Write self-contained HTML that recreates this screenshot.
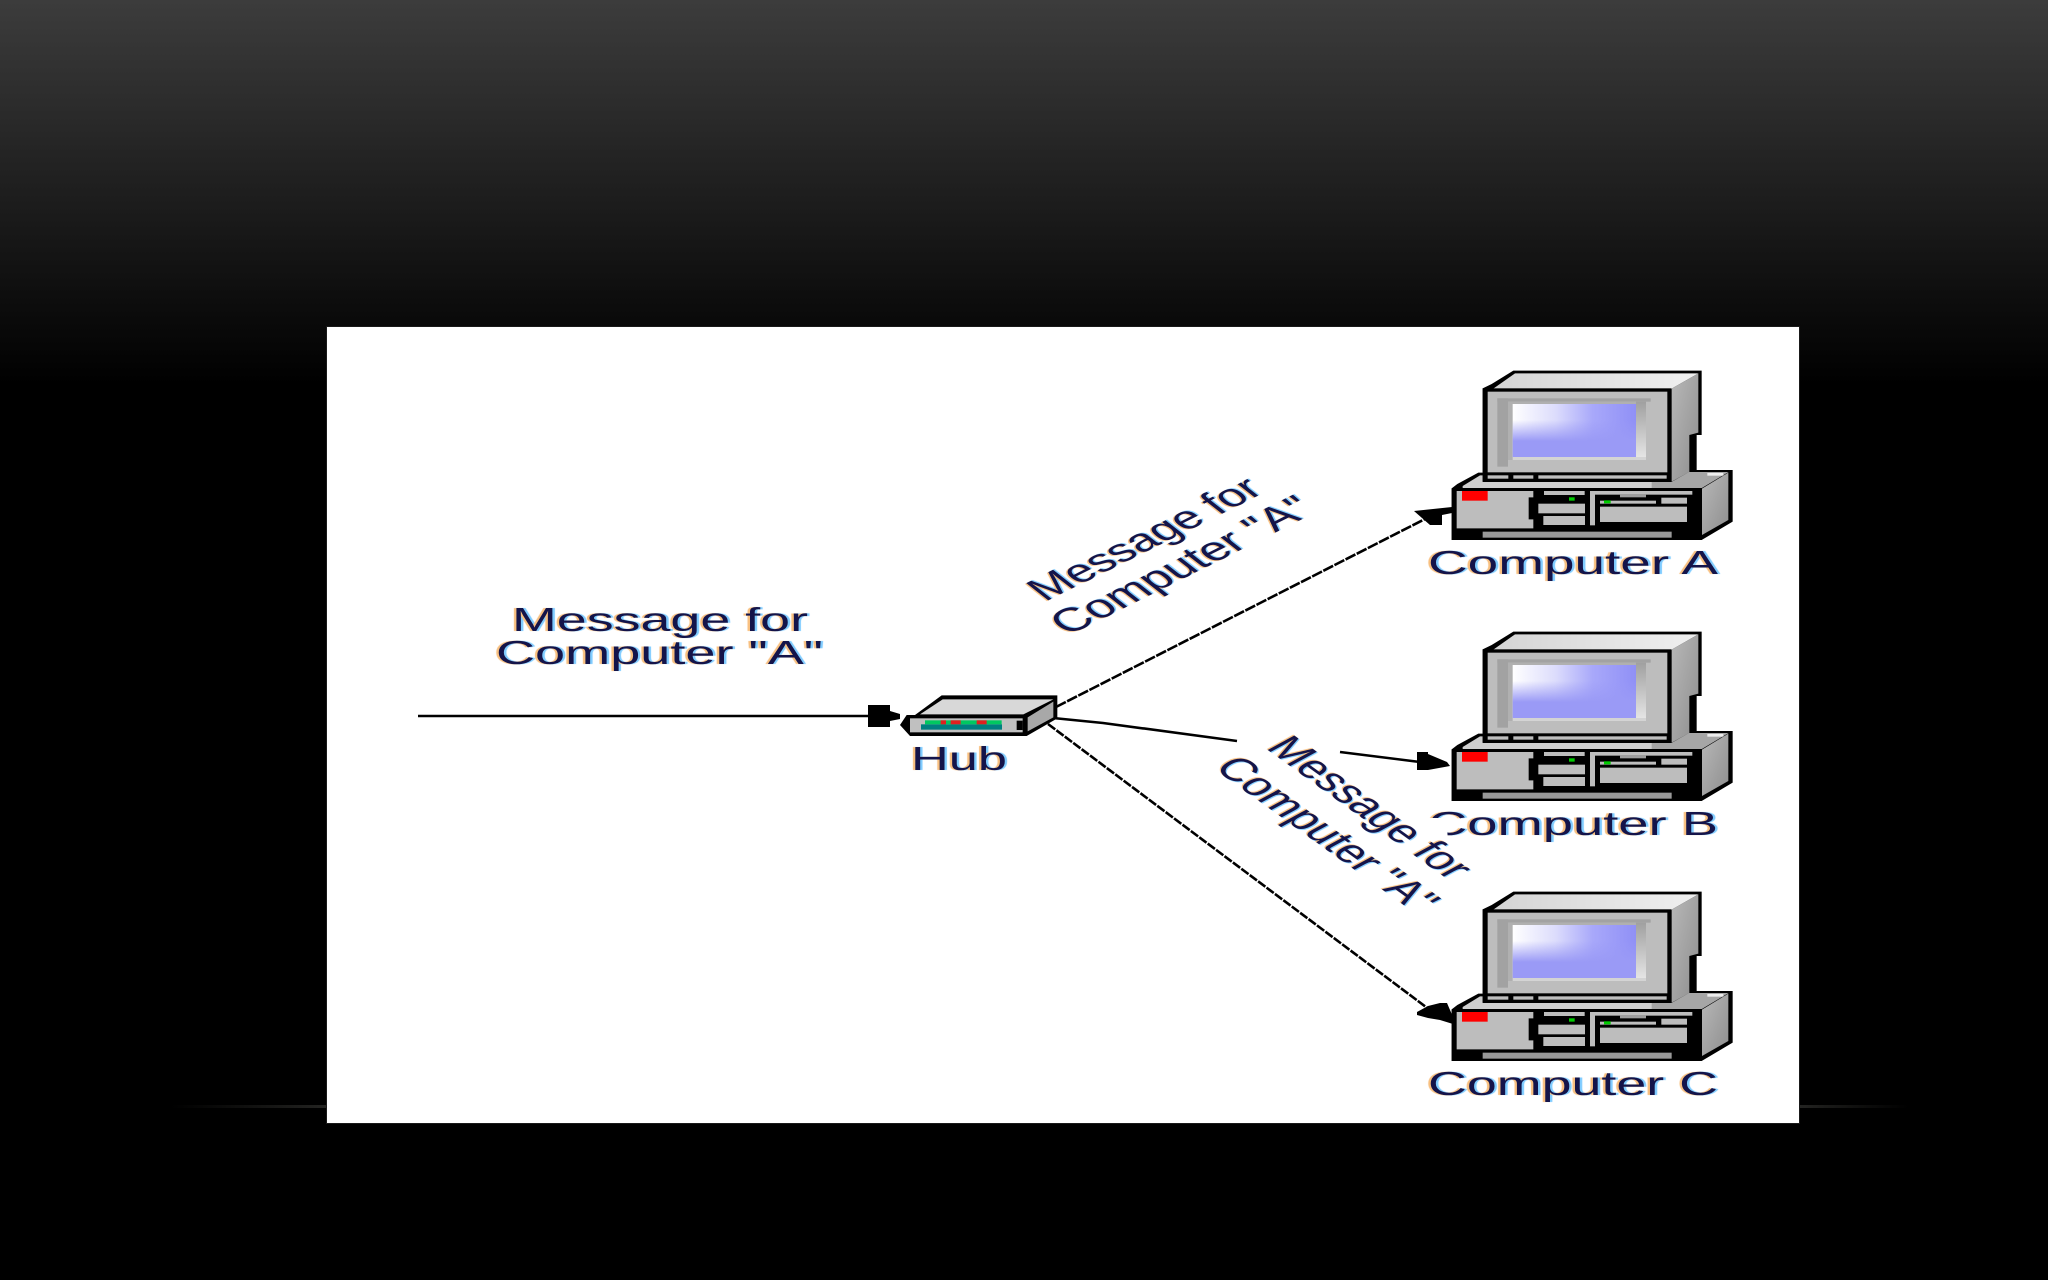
<!DOCTYPE html>
<html><head><meta charset="utf-8"><title>Hub diagram</title>
<style>
html,body{margin:0;padding:0;background:#000;width:2048px;height:1280px;overflow:hidden}
svg{display:block}
text{font-family:"Liberation Sans",sans-serif;font-size:33px;fill:#14144a;text-shadow:-1.5px 0 .5px #f8c080,1.5px 0 .5px #80ccff}
</style></head><body>
<svg width="2048" height="1280" viewBox="0 0 2048 1280" xmlns="http://www.w3.org/2000/svg">
<defs>
<linearGradient id="bg" x1="0" y1="0" x2="0" y2="1"><stop offset="0" stop-color="#3c3c3c"/><stop offset=".5" stop-color="#1e1e1e"/><stop offset="1" stop-color="#000"/></linearGradient>
<linearGradient id="fl" x1="0" x2="1"><stop offset="0" stop-color="#1e1e1c" stop-opacity="0"/><stop offset="1" stop-color="#242422"/></linearGradient>
<linearGradient id="fr" x1="0" x2="1"><stop offset="0" stop-color="#242422"/><stop offset="1" stop-color="#1e1e1c" stop-opacity="0"/></linearGradient>
<linearGradient id="scr" x1="0" y1="0" x2="1" y2="0"><stop offset="0" stop-color="#ffffff"/><stop offset=".35" stop-color="#dcdcfc"/><stop offset=".65" stop-color="#a8a8fa"/><stop offset="1" stop-color="#9090f6"/></linearGradient>
<linearGradient id="scrv" x1="0" y1="0" x2="0" y2="1"><stop offset=".3" stop-color="#9a9af6" stop-opacity="0"/><stop offset=".7" stop-color="#9a9af6"/></linearGradient>
<linearGradient id="top" x1="0" x2="1"><stop offset="0" stop-color="#d4d4d4"/><stop offset="1" stop-color="#f0f0f0"/></linearGradient>
<linearGradient id="side" x1="0" y1="0" x2="1" y2="1"><stop offset="0" stop-color="#b8b8b8"/><stop offset="1" stop-color="#8e8e8e"/></linearGradient>
<linearGradient id="rs" x1="0" y1="0" x2="0" y2="1"><stop offset="0" stop-color="#a0a0a0"/><stop offset="1" stop-color="#e8e8e8"/></linearGradient>
<g id="pc">
<polygon fill="#000" points="340,92 905,92 905,285 890,285 890,390 998,390 998,545 905,600 155,600 155,445 172,432 235,398 248,398 248,145 275,132"/>
<polygon fill="url(#top)" points="280,146 345,100 895,100 815,146"/>
<polygon fill="url(#side)" points="815,146 895,100 895,278 868,285 868,396 815,425"/>
<polygon fill="#cfcfcf" points="188,438 240,406 248,406 248,426 815,426 868,396 985,396 905,444 188,444"/>
<polygon fill="#a6a6a6" points="755,426 815,426 868,396 985,396 905,444 755,444"/>
<rect x="922" y="399" width="48" height="8" fill="#eee"/>
<polygon fill="url(#side)" points="906,446 985,398 985,540 906,585"/>
<rect x="248" y="145" width="566" height="280" fill="#000"/>
<rect x="263" y="155" width="539" height="242" fill="#bdbdbd"/>
<rect x="292" y="175" width="460" height="10" fill="#a2a2a2"/>
<rect x="292" y="175" width="32" height="205" fill="#a2a2a2"/>
<rect x="324" y="185" width="414" height="175" fill="#b0b0b0"/>
<rect x="708" y="185" width="30" height="175" fill="url(#rs)"/>
<rect x="338" y="192" width="370" height="159" fill="url(#scr)"/>
<rect x="338" y="192" width="370" height="159" fill="url(#scrv)"/>
<rect x="338" y="351" width="400" height="9" fill="#d4d4d4"/>
<rect x="263" y="406" width="62" height="10" fill="#bdbdbd"/>
<rect x="340" y="406" width="60" height="10" fill="#bdbdbd"/>
<rect x="415" y="406" width="385" height="10" fill="#bdbdbd"/>
<rect x="155" y="445" width="750" height="155" fill="#000"/>
<polygon fill="#bdbdbd" points="170,453 400,453 400,472 386,472 386,538 400,538 400,565 170,565"/>
<rect x="186" y="453" width="77" height="29" fill="#f00"/>
<rect x="432" y="453" width="122" height="12" fill="#bdbdbd"/>
<rect x="507" y="472" width="17" height="10" fill="#0c0"/>
<rect x="415" y="491" width="140" height="29" fill="#bdbdbd"/>
<rect x="430" y="528" width="125" height="27" fill="#bdbdbd"/>
<rect x="570" y="453" width="15" height="103" fill="#bdbdbd"/>
<rect x="585" y="453" width="292" height="11" fill="#bdbdbd"/>
<rect x="660" y="464" width="78" height="8" fill="#9c9c9c"/>
<rect x="600" y="482" width="168" height="9" fill="#bdbdbd"/>
<rect x="612" y="481" width="20" height="9" fill="#0c0"/>
<rect x="784" y="473" width="77" height="18" fill="#bdbdbd"/>
<rect x="600" y="500" width="261" height="46" fill="#bdbdbd"/>
<rect x="248" y="575" width="567" height="18" fill="#999"/>
</g>
</defs>

<rect width="2048" height="385" fill="url(#bg)"/>
<rect x="170" y="1105" width="157" height="3" fill="url(#fl)"/>
<rect x="1799" y="1105" width="110" height="3" fill="url(#fr)"/>
<rect x="326" y="326" width="1474" height="798" fill="#1a1a1a"/>
<rect x="327" y="327" width="1472" height="796" fill="#fff"/>

<!-- connectors -->
<g fill="none" stroke="#000" stroke-width="2.6">
<line x1="418" y1="716" x2="900" y2="716"/>
<line x1="1056" y1="707" x2="1425" y2="519" stroke-dasharray="11 1.5"/>
<polyline points="1053,718 1103,723 1237,741"/>
<line x1="1340" y1="752" x2="1420" y2="762"/>
<line x1="1048" y1="724" x2="1430" y2="1010" stroke-dasharray="9 1.5"/>
</g>
<g fill="#000">
<polygon points="868,705 890,705 890,711 900,714 900,719 890,721 890,727 868,727"/>
<polygon points="1414,511 1452,507 1452,513 1442,515 1442,525 1430,525 1422,518"/>
<polygon points="1417,752 1428,752 1428,754 1447,762 1450,766 1428,770 1417,770"/>
<polygon points="1417,1012 1428,1006 1440,1003 1447,1003 1453,1017 1453,1024 1440,1020 1428,1018 1417,1015"/>
</g>

<!-- hub -->
<g transform="translate(860,660) scale(.33333)">
<polygon fill="#000" points="245,106 592,106 592,175 500,228 150,228 120,195 140,165 165,165"/>
<polygon fill="#d8d8d8" points="180,163 248,118 580,118 490,163"/>
<polygon fill="#a8a8a8" points="503,172 580,125 580,172 503,214"/>
<rect x="150" y="175" width="338" height="42" fill="#c0c0c0"/>
<rect x="183" y="193" width="243" height="16" fill="#007f7f"/>
<rect x="195" y="181" width="230" height="12" fill="#00c860"/>
<rect x="242" y="181" width="16" height="12" fill="#e02020"/>
<rect x="272" y="181" width="30" height="12" fill="#e02020"/>
<rect x="350" y="181" width="30" height="12" fill="#e02020"/>
<rect x="470" y="182" width="18" height="28" fill="#000"/>
</g>

<!-- computers -->
<use href="#pc" transform="translate(1400,340) scale(.33333)"/>
<use href="#pc" transform="translate(1400,601) scale(.33333)"/>
<use href="#pc" transform="translate(1400,861) scale(.33333)"/>

<!-- labels -->
<text x="512" y="631" textLength="296" lengthAdjust="spacingAndGlyphs">Message for</text>
<text x="496" y="664" textLength="327" lengthAdjust="spacingAndGlyphs">Computer "A"</text>
<text x="911" y="770" textLength="96" lengthAdjust="spacingAndGlyphs">Hub</text>
<text x="1428" y="574" textLength="290" lengthAdjust="spacingAndGlyphs">Computer A</text>
<text x="1428" y="835" textLength="290" lengthAdjust="spacingAndGlyphs">Computer B</text>
<polygon fill="#fff" points="1425,818 1446,818 1448,840 1425,840"/>
<text x="1428" y="1095" textLength="290" lengthAdjust="spacingAndGlyphs">Computer C</text>
<text transform="translate(1045,602) scale(1.6,1) rotate(-38.6)" style="font-size:32px">Message for</text>
<text transform="translate(1068,636) scale(1.6,1) rotate(-38.6)" style="font-size:33px">Computer "A"</text>
<text transform="translate(1265,748) scale(1.6,1) rotate(49)" style="font-size:32px">Message for</text>
<text transform="translate(1213,768) scale(1.6,1) rotate(49)" style="font-size:32px">Computer "A"</text>
</svg>
</body></html>
